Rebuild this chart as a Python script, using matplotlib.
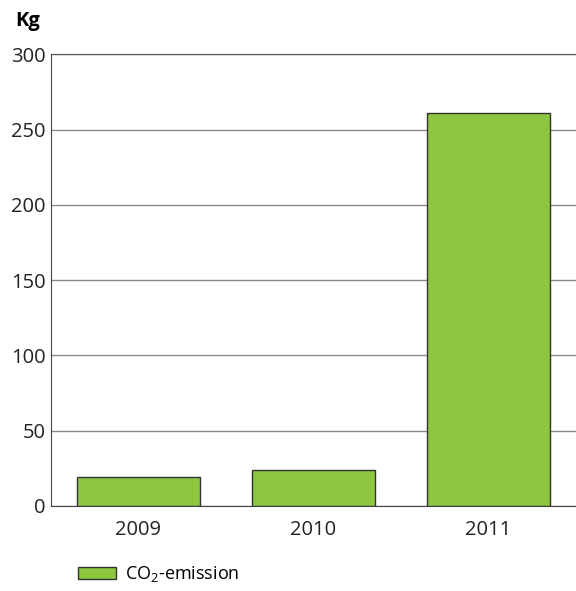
import matplotlib
matplotlib.use("Agg")
from matplotlib import pyplot as plt

years = ["2009", "2010", "2011"]
co2 = [19, 24, 261]
yticks = [0, 50, 100, 150, 200, 250, 300]

plt.rcParams['font.family'] = ['Open Sans', 'DejaVu Sans']
plt.rcParams['mathtext.fontset'] = 'custom'
plt.rcParams['mathtext.rm'] = 'Open Sans'
plt.rcParams['mathtext.it'] = 'Open Sans'

fig = plt.figure(figsize=(5.76, 5.91), dpi=100)
ax = fig.add_axes([0.0885, 0.1443, 0.9115, 0.7635])

ax.set_axisbelow(True)
ax.yaxis.grid(True, color="#8a8a8a", linewidth=1)
ax.bar(range(len(years)), co2, width=0.7, color="#8dc63f",
       edgecolor="#333333", linewidth=1, label="CO$_2$-emission")

ax.set_xlim(-0.5, 2.5)
ax.set_ylim(0, 300)
ax.set_yticks(yticks)
ax.set_xticks(range(len(years)))
ax.set_xticklabels(years)
ax.tick_params(axis="both", length=0, labelsize=14.5, colors="#222222")
ax.tick_params(axis="y", pad=4)
ax.tick_params(axis="x", pad=10)

ax.spines["right"].set_visible(False)
ax.spines["top"].set_color("#555555")
ax.spines["left"].set_color("#444444")
ax.spines["bottom"].set_color("#444444")

fig.text(0.026, 0.965, "Kg", fontsize=14.5, fontweight="bold", va="center")

ax.legend(loc="center left", bbox_to_anchor=(0.107, 0.028),
          bbox_transform=fig.transFigure, frameon=False, fontsize=13,
          handlelength=2.1, handleheight=0.7, handletextpad=0.5)

fig.savefig("out.png", dpi=100)
